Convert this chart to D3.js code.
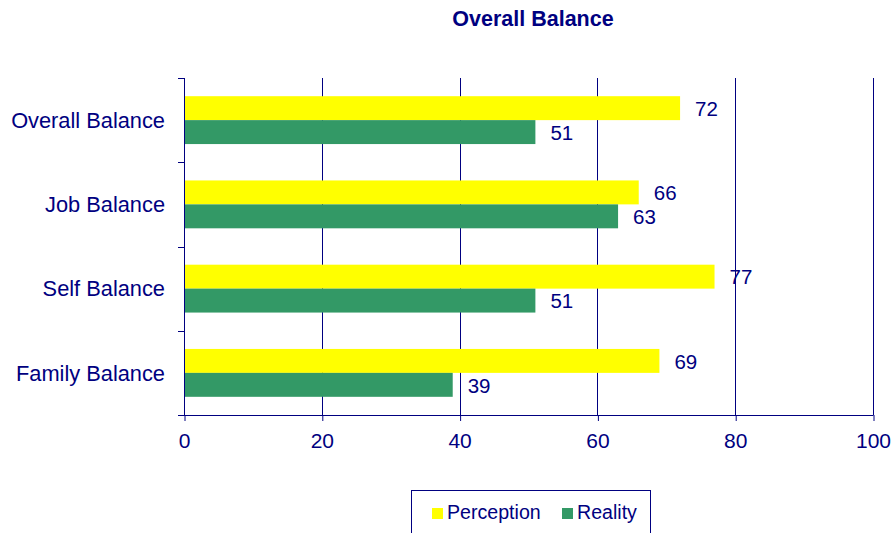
<!DOCTYPE html>
<html>
<head>
<meta charset="utf-8">
<script src="https://cdn.jsdelivr.net/npm/d3@7"></script>
<style>
    body { margin: 0; background: #fff; }
    svg { display: block; font-family: Arial, "Liberation Sans", sans-serif; }
</style>
</head>
<body>
<div id="chart"></div>
<script>
var categories = ["Overall Balance", "Job Balance", "Self Balance", "Family Balance"];
var seriesNames = ["Perception", "Reality"];
var perception = [72, 66, 77, 69];
var reality = [51, 63, 51, 39];
var xTicks = [0, 20, 40, 60, 80, 100];

var colors = {Perception: "#ffff00", Reality: "#339966"};
var navy = "#000080";

var width = 896, height = 533;
var margin = {top: 78, right: 23, bottom: 118, left: 184};
var plotW = width - margin.left - margin.right,
    plotH = height - margin.top - margin.bottom;

var data = categories.map(function(c, i){
    return {name: c, values: [
        {series: "Perception", value: perception[i]},
        {series: "Reality", value: reality[i]}
    ]};
});

var svg = d3.select("#chart")
    .append("svg")
    .attr("width", width)
    .attr("height", height);

var x = d3.scaleLinear()
    .domain([0, 100])
    .range([0, plotW]);

var y = d3.scaleBand()
    .domain(categories)
    .range([0, plotH]);

var ySeries = d3.scaleBand()
    .domain(seriesNames)
    .range([0, y.bandwidth()])
    .paddingOuter(0.76);

// title
svg.append("text")
    .attr("x", 533)
    .attr("y", 26)
    .attr("text-anchor", "middle")
    .attr("fill", navy)
    .style("font-size", "21.5px")
    .style("font-weight", "bold")
    .text("Overall Balance");

var g = svg.append("g")
    .attr("transform", "translate(" + margin.left + "," + margin.top + ")");

// vertical gridlines
g.append("g")
    .selectAll("line")
    .data(xTicks.slice(1)).enter()
    .append("line")
    .attr("x1", function(d){ return Math.round(x(d)) + 0.5; })
    .attr("x2", function(d){ return Math.round(x(d)) + 0.5; })
    .attr("y1", 0)
    .attr("y2", plotH)
    .attr("stroke", navy)
    .attr("stroke-width", 1);

// bars
var groups = g.append("g")
    .selectAll("g")
    .data(data).enter()
    .append("g")
    .attr("transform", function(d){ return "translate(0," + y(d.name) + ")"; });

groups.selectAll("rect")
    .data(function(d){ return d.values; }).enter()
    .append("rect")
    .attr("x", 0)
    .attr("y", function(d){ return ySeries(d.series); })
    .attr("width", function(d){ return x(d.value); })
    .attr("height", ySeries.bandwidth())
    .attr("fill", function(d){ return colors[d.series]; });

groups.selectAll("text")
    .data(function(d){ return d.values; }).enter()
    .append("text")
    .attr("x", function(d){ return x(d.value) + 15; })
    .attr("y", function(d){ return ySeries(d.series) + ySeries.bandwidth() / 2 + 0.5; })
    .attr("dy", ".35em")
    .attr("fill", navy)
    .style("font-size", "20.5px")
    .text(function(d){ return d.value; });

// x axis
var xAxis = g.append("g")
    .attr("transform", "translate(0," + plotH + ")")
    .call(d3.axisBottom(x).tickValues(xTicks).tickSize(6).tickPadding(12));
xAxis.select(".domain").remove();
xAxis.append("line")
    .attr("x1", -6)
    .attr("x2", plotW + 0.5)
    .attr("y1", 0.5)
    .attr("y2", 0.5)
    .attr("stroke", navy);
xAxis.selectAll(".tick line").attr("stroke", navy).attr("transform", "translate(0.5,0)");
xAxis.selectAll(".tick text")
    .attr("fill", navy)
    .style("font-size", "21px")
    .style("font-family", "Arial, 'Liberation Sans', sans-serif");

// y axis
var bounds = categories.map(function(c){ return y(c); }).concat([plotH]);
g.append("line")
    .attr("x1", 0.5)
    .attr("x2", 0.5)
    .attr("y1", 0)
    .attr("y2", plotH + 1)
    .attr("stroke", navy);
g.append("g")
    .selectAll("line")
    .data(bounds).enter()
    .append("line")
    .attr("x1", -6)
    .attr("x2", 0)
    .attr("y1", function(d){ return Math.round(d) + 0.5; })
    .attr("y2", function(d){ return Math.round(d) + 0.5; })
    .attr("stroke", navy);

g.append("g")
    .selectAll("text")
    .data(categories).enter()
    .append("text")
    .attr("x", -19)
    .attr("y", function(d){ return y(d) + y.bandwidth() / 2; })
    .attr("dy", ".35em")
    .attr("text-anchor", "end")
    .attr("fill", navy)
    .style("font-size", "21.8px")
    .text(function(d){ return d; });

// legend
var legend = svg.append("g");
legend.append("rect")
    .attr("x", 411.5)
    .attr("y", 490.5)
    .attr("width", 239)
    .attr("height", 60)
    .attr("fill", "none")
    .attr("stroke", navy);

var legendX = [432, 562];
var items = legend.selectAll("g")
    .data(seriesNames).enter()
    .append("g")
    .attr("transform", function(d, i){ return "translate(" + legendX[i] + ",508)"; });
items.append("rect")
    .attr("width", 11)
    .attr("height", 11)
    .attr("fill", function(d){ return colors[d]; });
items.append("text")
    .attr("x", 15)
    .attr("y", 11)
    .attr("fill", navy)
    .style("font-size", "19.6px")
    .text(function(d){ return d; });
</script>
</body>
</html>
